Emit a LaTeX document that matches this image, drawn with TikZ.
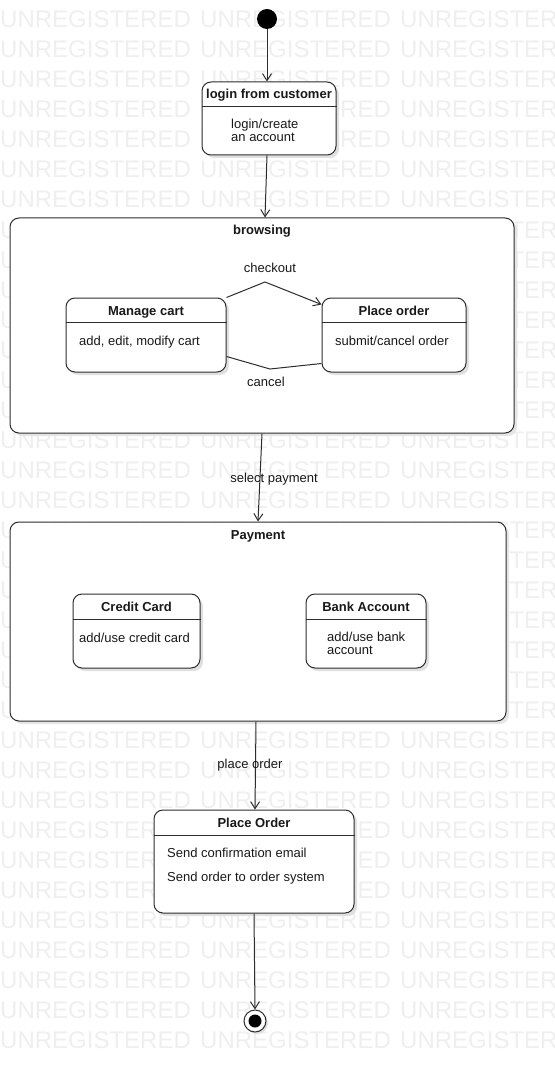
\documentclass[tikz,border=0pt]{standalone}
\usepackage{fontspec}
\setmainfont{Liberation Sans}
\usetikzlibrary{arrows.meta,shadows}
\definecolor{ln}{RGB}{45,45,45}
\definecolor{wmc}{RGB}{239,239,239}
\definecolor{tx}{RGB}{25,25,25}
\begin{document}
\begin{tikzpicture}[x=1pt,y=-1pt,
  box/.style={draw=ln, line width=1pt, rounded corners=9pt, fill=white,
    drop shadow={shadow xshift=3pt, shadow yshift=-3pt, fill=black!12, opacity=1}},
  bigbox/.style={draw=ln, line width=1pt, rounded corners=9pt, fill=white,
    drop shadow={shadow xshift=3pt, shadow yshift=-3pt, fill=black!10, opacity=1}},
  sep/.style={draw=ln, line width=1pt},
  arr/.style={draw=ln, line width=1pt, -{Straight Barb[length=7pt,width=9pt,line width=1pt]}},
  conn/.style={draw=ln, line width=1pt},
  ttl/.style={font=\fontsize{13}{15}\selectfont\bfseries, text=tx, inner sep=0, anchor=base},
  txt/.style={font=\fontsize{13}{15}\selectfont, text=tx, inner sep=0, anchor=base west},
  lbl/.style={font=\fontsize{13}{15}\selectfont, text=tx, inner sep=0, anchor=base},
  wm/.style={font=\fontsize{24}{26}\selectfont, text=wmc, inner sep=0, anchor=base west}]
\useasboundingbox[fill=white] (0,0) rectangle (554,1075);
% watermark
\foreach \r in {0,...,34}{
  \foreach \c in {0,200,400}{
    \node[wm] (wm-\r-\c) at (\c,{28+30*\r}) {UNREGISTERED};
  }
}
% initial state
\node[circle, fill=black, minimum size=20pt, inner sep=0] (init) at (267,19) {};
% login box
\node[box, minimum width=134pt, minimum height=73pt] (login) at (269,118.5) {};
\draw[sep] (login.west |- 0,107) -- (login.east |- 0,107);
\node[ttl] (loginT) at (269,99) {login from customer};
\node[txt] (loginB1) at (231,129) {login/create};
\node[txt] (loginB2) at (231,142) {an account};
% browsing container
\node[bigbox, minimum width=504pt, minimum height=215pt] (browsing) at (262,325.5) {};
\node[ttl] (browsingT) at (262,235) {browsing};
% manage cart
\node[box, minimum width=160pt, minimum height=74pt] (mc) at (146,335) {};
\draw[sep] (mc.west |- 0,322) -- (mc.east |- 0,322);
\node[ttl] (mcT) at (146,315) {Manage cart};
\node[txt] (mcB) at (79,345) {add, edit, modify cart};
% place order (browsing)
\node[box, minimum width=144pt, minimum height=74pt] (po) at (394,335) {};
\draw[sep] (po.west |- 0,322) -- (po.east |- 0,322);
\node[ttl] (poT) at (394,315) {Place order};
\node[txt] (poB) at (335,345) {submit/cancel order};
% checkout / cancel
\coordinate (ck) at (265,282);
\coordinate (cn) at (270,369);
\draw[arr] (mc.north east) -- (ck) -- ([yshift=-7pt]po.north west);
\node[lbl] (ckL) at (270,272) {checkout};
\draw[conn] ([yshift=9pt]po.south west) -- (cn) -- ([yshift=16pt]mc.south east);
\node[lbl] (cnL) at (266,386) {cancel};
% payment container
\node[bigbox, minimum width=496pt, minimum height=199pt] (pay) at (258,621.5) {};
\node[ttl] (payT) at (258,539) {Payment};
% credit card
\node[box, minimum width=127pt, minimum height=74pt] (cc) at (136.5,631) {};
\draw[sep] (cc.west |- 0,619) -- (cc.east |- 0,619);
\node[ttl] (ccT) at (136.5,611) {Credit Card};
\node[txt] (ccB) at (79,642) {add/use credit card};
% bank account
\node[box, minimum width=120pt, minimum height=74pt] (ba) at (366,631) {};
\draw[sep] (ba.west |- 0,619) -- (ba.east |- 0,619);
\node[ttl] (baT) at (366,611) {Bank Account};
\node[txt] (baB1) at (327,641) {add/use bank};
\node[txt] (baB2) at (327,654) {account};
% place order (final)
\node[box, minimum width=200pt, minimum height=103pt] (pord) at (254,861.5) {};
\draw[sep] (pord.west |- 0,835) -- (pord.east |- 0,835);
\node[ttl] (pordT) at (254,827) {Place Order};
\node[txt] (pordB1) at (167,857) {Send confirmation email};
\node[txt] (pordB2) at (167,881) {Send order to order system};
% final state
\node[circle, draw=ln, line width=1pt, fill=white, minimum size=22pt, inner sep=0,
  drop shadow={shadow xshift=2pt, shadow yshift=-2pt, fill=black!12, opacity=1}] (fin) at (255,1021) {};
\node[circle, fill=black, minimum size=13pt, inner sep=0] (finIn) at (fin.center) {};
% transitions
\draw[arr] (init.south) -- (init.south |- login.north);
\draw[arr] (login.south -| 267,0) -- (browsing.north -| 265,0);
\draw[arr] (browsing.south) -- (pay.north);
\node[lbl] (spL) at (274,482) {select payment};
\draw[arr] (pay.south -| 256,0) -- (pord.north -| 255,0);
\node[lbl] (plL) at (250,768) {place order};
\draw[arr] (pord.south) -- (fin.north);
\end{tikzpicture}
\end{document}
